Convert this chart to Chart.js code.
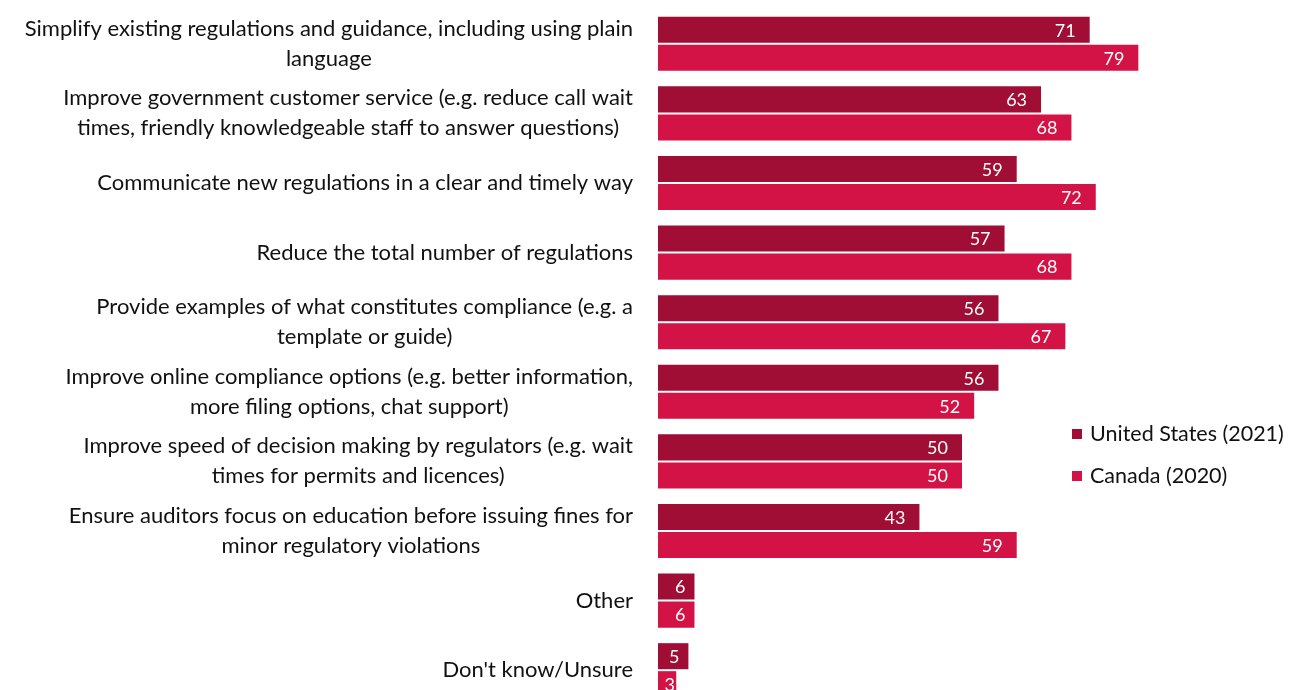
<!DOCTYPE html>
<html>
<head>
<meta charset="utf-8">
<script src="https://cdn.jsdelivr.net/npm/chart.js@4.4.1/dist/chart.umd.min.js"></script>
<style>
    html, body { margin: 0; padding: 0; background: #fff; overflow: hidden; }
    #wrap { position: relative; width: 1291px; height: 720px; }
    #legend { position: absolute; left: 1072px; top: 419px; font-family: Lato, sans-serif; font-size: 21.5px; color: #111; }
    #legend div { height: 42px; line-height: 28px; white-space: nowrap; }
    #legend span { display: inline-block; width: 10px; height: 10px; margin-right: 8px; vertical-align: 2px; }
</style>
</head>
<body>
<div id="wrap">
    <canvas id="chart" width="1291" height="720"></canvas>
    <div id="legend"></div>
</div>
<script>
const categories = [
    ["Simplify existing regulations and guidance, including using plain", "language"],
    ["Improve government customer service (e.g. reduce call wait", "times, friendly knowledgeable staff to answer questions)"],
    ["Communicate new regulations in a clear and timely way"],
    ["Reduce the total number of regulations"],
    ["Provide examples of what constitutes compliance (e.g. a", "template or guide)"],
    ["Improve online compliance options (e.g. better information,", "more filing options, chat support)"],
    ["Improve speed of decision making by regulators (e.g. wait", "times for permits and licences)"],
    ["Ensure auditors focus on education before issuing fines for", "minor regulatory violations"],
    ["Other"],
    ["Don't know/Unsure"]
];
const seriesNames = ["United States (2021)", "Canada (2020)"];
const usValues = [71, 63, 59, 57, 56, 56, 50, 43, 6, 5];
const caValues = [79, 68, 72, 68, 67, 52, 50, 59, 6, 3];
const colors = ['#a00e35', '#d31245'];

const FONT = 'Lato, sans-serif';

// category labels: block right-aligned to the axis, lines centred inside the block
const categoryLabels = {
    id: 'categoryLabels',
    afterDraw(chart) {
        const ctx = chart.ctx;
        const y = chart.scales.y;
        const right = chart.chartArea.left - 25;
        const lineH = 30;
        ctx.save();
        ctx.font = '22px ' + FONT;
        ctx.fillStyle = '#111';
        ctx.textAlign = 'center';
        ctx.textBaseline = 'middle';
        categories.forEach((lines, i) => {
            const w = Math.max(...lines.map(l => ctx.measureText(l).width));
            const cx = right - w / 2;
            const cy = y.getPixelForValue(i);
            const top = cy - (lines.length - 1) * lineH / 2;
            lines.forEach((l, j) => ctx.fillText(l, cx, top + j * lineH));
        });
        ctx.restore();
    }
};

// values inside the end of each bar
const valueLabels = {
    id: 'valueLabels',
    afterDatasetsDraw(chart) {
        const ctx = chart.ctx;
        ctx.save();
        ctx.font = '18px ' + FONT;
        ctx.fillStyle = '#fff';
        ctx.textAlign = 'right';
        ctx.textBaseline = 'middle';
        chart.data.datasets.forEach((ds, di) => {
            chart.getDatasetMeta(di).data.forEach((bar, i) => {
                const len = bar.x - bar.base;
                const pad = len > 40 ? 14 : 9;
                ctx.fillText(ds.data[i], Math.max(bar.x - pad, bar.base + 17), bar.y + 1);
            });
        });
        ctx.restore();
    }
};

new Chart(document.getElementById('chart').getContext('2d'), {
    type: 'bar',
    data: {
        labels: categories.map(c => c.join(' ')),
        datasets: [{
            label: seriesNames[0],
            data: usValues,
            backgroundColor: colors[0]
        }, {
            label: seriesNames[1],
            data: caValues,
            backgroundColor: colors[1]
        }]
    },
    options: {
        indexAxis: 'y',
        responsive: false,
        animation: false,
        layout: { padding: { left: 658, right: 25, top: 9, bottom: 15 } },
        datasets: {
            bar: { categoryPercentage: 0.805, barPercentage: 0.93 }
        },
        scales: {
            x: { display: false, min: 0, max: 100 },
            y: { display: false }
        },
        plugins: {
            legend: { display: false },
            tooltip: { enabled: false }
        }
    },
    plugins: [categoryLabels, valueLabels]
});

const legend = document.getElementById('legend');
seriesNames.forEach((name, i) => {
    const row = document.createElement('div');
    row.innerHTML = '<span style="background:' + colors[i] + '"></span>' + name;
    legend.appendChild(row);
});
</script>
</body>
</html>
